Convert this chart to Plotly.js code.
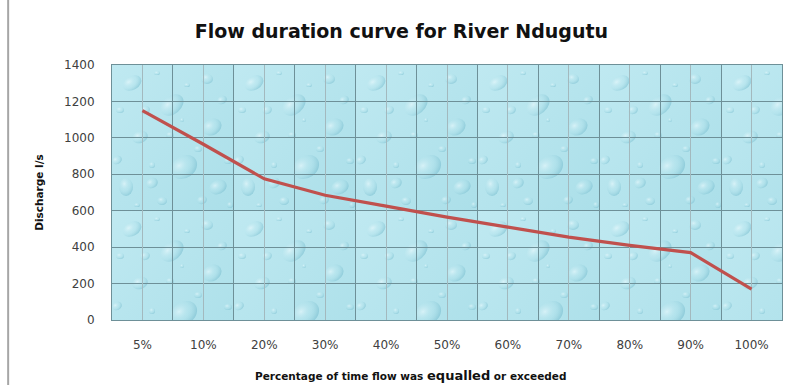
<!DOCTYPE html>
<html><head><meta charset="utf-8">
<script src="https://cdn.plot.ly/plotly-3.0.1.min.js"></script>
<style>html,body{margin:0;padding:0;background:#fff;}</style>
</head><body><div id="chart" style="width:787px;height:385px;"></div>
<script>
// ---- data ----
const categories = ['5%','10%','20%','30%','40%','50%','60%','70%','80%','90%','100%'];
const discharge = [1150, 965, 775, 685, 625, 565, 510, 455, 410, 370, 170];
const yTickVals = [0, 200, 400, 600, 800, 1000, 1200, 1400];
const chartTitle = 'Flow duration curve for River Ndugutu';
const yTitle = 'Discharge l/s';

// ---- decorative water-drop texture (background only) ----
function textureURI(w, h) {
  const drops = [
    [20,18,10,7,-30],[60,40,13,9,-40],[95,14,6,5,0],[100,62,10,8,-30],
    [28,72,8,6,-20],[72,102,14,11,-35],[14,122,7,9,0],[106,122,9,7,-25],
    [50,136,5,4,0],[86,84,4,3,0],[40,100,3,3,0],[116,96,4,3,0],[8,45,4,3,0],[45,8,3,2,0],
    [75,20,3,2,0],[33,45,5,4,-20],[110,35,5,4,-30],[58,70,4,3,0],[90,135,5,4,-20],[25,140,3,2,0],
    [5,95,5,4,-30],[118,140,3,3,0],[70,55,2,2,0],[40,118,6,5,-30]
  ];
  let el = drops.map(d => `<ellipse cx="${d[0]}" cy="${d[1]}" rx="${d[2]}" ry="${d[3]}" transform="rotate(${d[4]} ${d[0]} ${d[1]})" fill="url(#g)"/>`).join('');
  const s = `<svg xmlns="http://www.w3.org/2000/svg" width="${w}" height="${h}" viewBox="0 0 ${w} ${h}" preserveAspectRatio="none">
<defs>
<radialGradient id="g" cx="0.38" cy="0.32" r="0.75">
<stop offset="0" stop-color="#eefbfe" stop-opacity="0.6"/>
<stop offset="0.5" stop-color="#b3e3ec" stop-opacity="0.25"/>
<stop offset="1" stop-color="#6db6c9" stop-opacity="0.6"/>
</radialGradient>
<linearGradient id="bg" x1="0" y1="0" x2="1" y2="1">
<stop offset="0" stop-color="#bfe9f1"/><stop offset="1" stop-color="#abdfe9"/>
</linearGradient>
<pattern id="p" width="122" height="146" patternUnits="userSpaceOnUse">
<rect width="122" height="146" fill="url(#bg)"/>${el}
</pattern></defs>
<rect width="${w}" height="${h}" fill="url(#p)"/></svg>`;
  return 'data:image/svg+xml;charset=utf-8,' + encodeURIComponent(s);
}

const gridDark = '#6e9098';
const gridLight = '#a3b9be';
const tickFont = {family: 'DejaVu Sans', size: 12, color: '#404040'};

const traces = [
  {
    type: 'scatter', mode: 'lines', x: categories, y: discharge,
    line: {color: '#c0504d', width: 3.2}, hoverinfo: 'x+y', showlegend: false
  },
  { // carries the half-category grid (overlay axis)
    type: 'scatter', mode: 'lines', x: [], y: [], xaxis: 'x2', yaxis: 'y',
    showlegend: false, hoverinfo: 'skip'
  }
];

const layout = {
  width: 787, height: 385,
  margin: {l: 112, r: 5, t: 65, b: 65},
  paper_bgcolor: '#ffffff',
  plot_bgcolor: 'rgba(0,0,0,0)',
  showlegend: false,
  title: {
    text: '<b>' + chartTitle + '</b>',
    font: {family: 'DejaVu Sans', size: 19, color: '#111'},
    x: 0.51, xref: 'container', xanchor: 'center',
    y: 0.918, yref: 'container', yanchor: 'middle'
  },
  xaxis: {
    type: 'category', tickson: 'boundaries', showgrid: true, gridcolor: gridDark, gridwidth: 1,
    showline: true, mirror: true, linecolor: gridDark, linewidth: 1,
    ticks: '', tickfont: tickFont, ticklabelstandoff: 14, zeroline: false,
    range: [-0.5, categories.length - 0.5]
  },
  xaxis2: {
    overlaying: 'x', type: 'linear', range: [0, categories.length], tick0: 0.5, dtick: 1,
    showgrid: true, gridcolor: gridLight, gridwidth: 1, showticklabels: false, ticks: '',
    zeroline: false, showline: false
  },
  yaxis: {
    range: [0, 1400], tickvals: yTickVals, showgrid: true, gridcolor: gridDark, gridwidth: 1,
    showline: true, mirror: true, linecolor: gridDark, linewidth: 1, zeroline: false,
    ticks: '', tickfont: tickFont, ticklabelstandoff: 14,
    title: {text: '<b>' + yTitle + '</b>', font: {family: 'DejaVu Sans', size: 10.5, color: '#111'}, standoff: 18}
  },
  images: [{
    source: textureURI(670, 255), xref: 'paper', yref: 'paper', x: 0, y: 1,
    sizex: 1, sizey: 1, xanchor: 'left', yanchor: 'top', sizing: 'stretch', layer: 'below'
  }],
  annotations: [{
    xref: 'paper', yref: 'paper', x: 0.446, y: -0.216, xanchor: 'center', yanchor: 'middle',
    showarrow: false,
    text: '<b>Percentage of time flow was <span style="font-size:13px">equalled</span> or exceeded</b>',
    font: {family: 'DejaVu Sans', size: 10.5, color: '#111'}
  }],
  shapes: [{
    type: 'line', xref: 'paper', yref: 'paper', x0: -0.155, x1: -0.155, y0: -0.26, y1: 1.26,
    line: {color: '#a6a6a6', width: 2}
  }]
};

Plotly.newPlot('chart', traces, layout, {staticPlot: true, displayModeBar: false});
</script></body></html>
